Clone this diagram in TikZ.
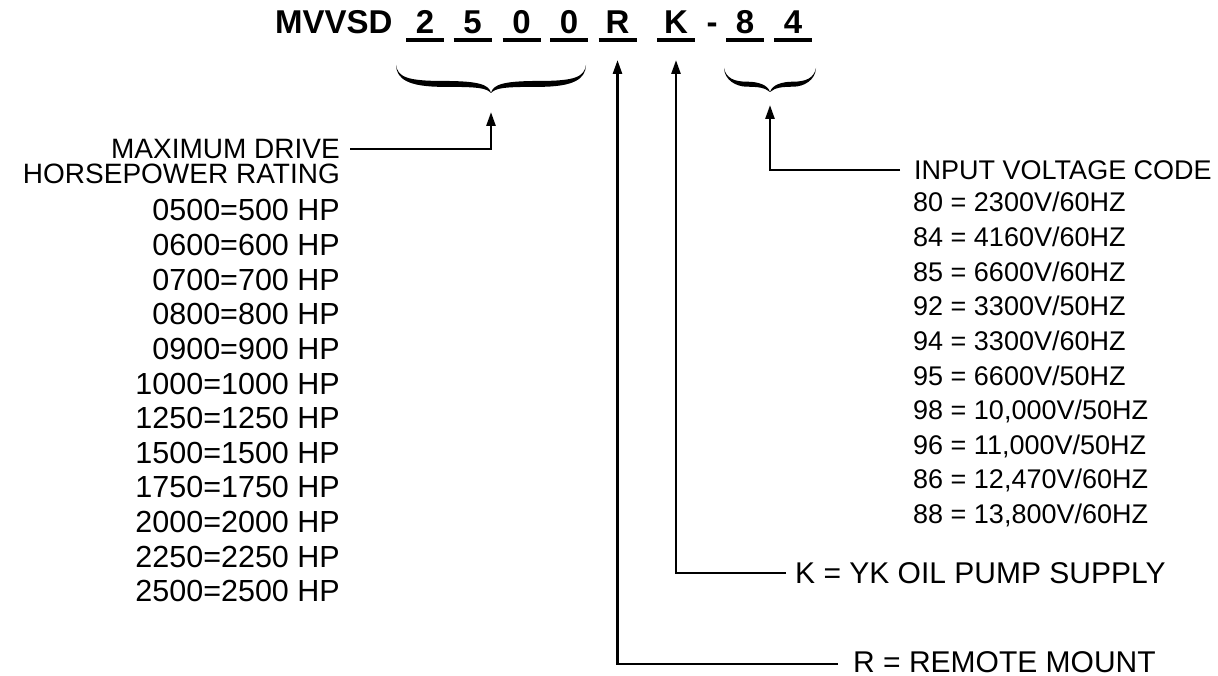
\documentclass[tikz,border=0pt]{standalone}
\usepackage{fontspec}
\setmainfont{Liberation Sans}
\usetikzlibrary{arrows.meta}
\begin{document}
\begin{tikzpicture}[x=1bp,y=-1bp,
  lbl/.style={inner sep=0pt, font={\fontsize{30.5bp}{36bp}\selectfont}},
  hlbl/.style={inner sep=0pt, font={\fontsize{28bp}{34bp}\selectfont}},
  rlbl/.style={inner sep=0pt, font={\fontsize{27bp}{32bp}\selectfont}},
  blbl/.style={inner sep=0pt, font={\fontsize{30bp}{36bp}\selectfont}, text height=20bp, text depth=0pt},
  code/.style={inner sep=0pt, font={\fontsize{33bp}{40bp}\selectfont\bfseries}},
  uline/.style={line width=4bp},
  arr/.style={line width=2.6bp, -{Triangle[length=14bp,width=9bp]}},
  pics/cbrace/.style 2 args={code={
    \foreach \s in {1,-1}{
      \fill[xscale=\s] (-#1,0) .. controls (-#1+2,0.42*#2) and (-#1+10,0.57*#2) .. (-0.5*#1,0.57*#2)
        .. controls (-12,0.57*#2) and (-2,0.7*#2) .. (0,#2)
        .. controls (-5,0.82*#2) and (-12,0.78*#2) .. (-0.5*#1,0.78*#2)
        .. controls (-#1+12,0.78*#2) and (-#1+0.5,0.5*#2) .. (-#1,0) -- cycle;
    }
  }}
]
\useasboundingbox (0,0) rectangle (1218,676);

% title
\node[code, anchor=base west] (mv) at (275,34) {MVVSD};
\foreach \cx/\t/\n in {425/2/d1, 472.5/5/d2, 521.5/0/d3, 569/0/d4, 617.5/R/dr, 676/K/dk, 745/8/d8, 793/4/d9}{
  \node[code, anchor=base] (\n) at (\cx,34) {\t};
  \draw[uline] (\cx-19,40.3) -- (\cx+19,40.3);
}
\node[code, anchor=base] (dash) at (712,34) {-};

% braces
\pic at (491,65) {cbrace={95}{28}};
\pic at (770,68) {cbrace={46}{24}};

% arrow tips
\coordinate (btip) at (491,112);
\coordinate (itip) at (770,105);
\coordinate (rtip) at (617.5,60);
\coordinate (ktip) at (676,60);

% left block
\node[hlbl, anchor=east, inner xsep=10bp, text height=20bp, text depth=0pt] (maxd) at (350,149) {MAXIMUM DRIVE};
\draw[arr] (maxd.east) -| (btip);
\node[hlbl, anchor=base east] (hpr) at (340,184) {HORSEPOWER RATING};
\node[lbl, anchor=base east] (h1) at (340,221) {0500=500 HP};
\node[lbl, anchor=base east] (h2) at (340,255.6) {0600=600 HP};
\node[lbl, anchor=base east] (h3) at (340,290.2) {0700=700 HP};
\node[lbl, anchor=base east] (h4) at (340,324.8) {0800=800 HP};
\node[lbl, anchor=base east] (h5) at (340,359.4) {0900=900 HP};
\node[lbl, anchor=base east] (h6) at (340,394) {1000=1000 HP};
\node[lbl, anchor=base east] (h7) at (340,428.6) {1250=1250 HP};
\node[lbl, anchor=base east] (h8) at (340,463.2) {1500=1500 HP};
\node[lbl, anchor=base east] (h9) at (340,497.8) {1750=1750 HP};
\node[lbl, anchor=base east] (h10) at (340,532.4) {2000=2000 HP};
\node[lbl, anchor=base east] (h11) at (340,567) {2250=2250 HP};
\node[lbl, anchor=base east] (h12) at (340,601.6) {2500=2500 HP};

% right block
\node[rlbl, anchor=west, inner xsep=14bp] (ivc) at (900,170) {INPUT VOLTAGE CODE};
\draw[arr] (ivc.west) -| (itip);
\node[rlbl, anchor=base west] (v1) at (913,212) {80 = 2300V/60HZ};
\node[rlbl, anchor=base west] (v2) at (913,246.6) {84 = 4160V/60HZ};
\node[rlbl, anchor=base west] (v3) at (913,281.2) {85 = 6600V/60HZ};
\node[rlbl, anchor=base west] (v4) at (913,315.8) {92 = 3300V/50HZ};
\node[rlbl, anchor=base west] (v5) at (913,350.4) {94 = 3300V/60HZ};
\node[rlbl, anchor=base west] (v6) at (913,385) {95 = 6600V/50HZ};
\node[rlbl, anchor=base west] (v7) at (913,419.6) {98 = 10,000V/50HZ};
\node[rlbl, anchor=base west] (v8) at (913,454.2) {96 = 11,000V/50HZ};
\node[rlbl, anchor=base west] (v9) at (913,488.8) {86 = 12,470V/60HZ};
\node[rlbl, anchor=base west] (v10) at (913,523.4) {88 = 13,800V/60HZ};

% K and R
\node[blbl, anchor=west, inner xsep=9bp] (kt) at (786,573) {K = YK OIL PUMP SUPPLY};
\draw[arr] (kt.west) -| (ktip);
\node[blbl, anchor=west, inner xsep=15bp, text height=16bp] (rt) at (838,664) {R = REMOTE MOUNT};
\draw[arr] (rt.west) -| (rtip);
\end{tikzpicture}
\end{document}
